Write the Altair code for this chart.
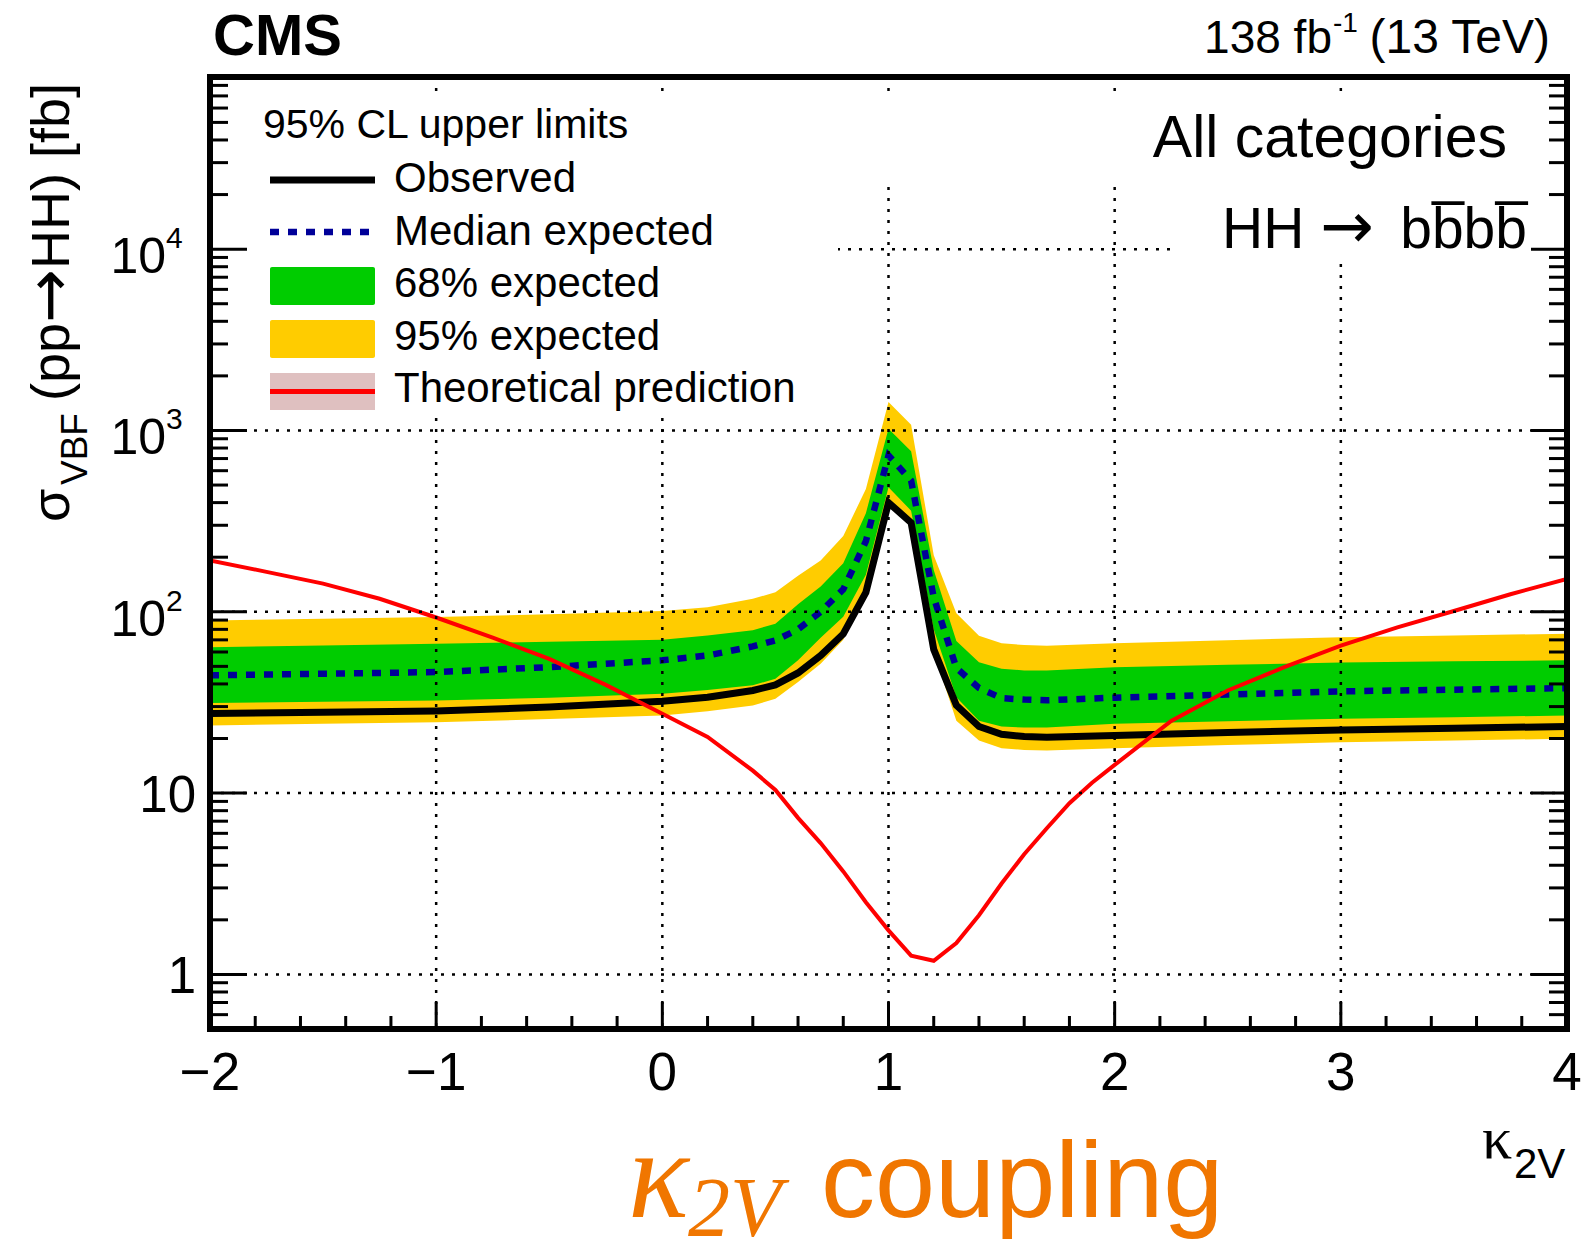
import altair as alt
import pandas as pd

# ---------------- data ----------------
# kappa_2V scan points of the upper limits (fb)
kappa = [-2.0, -1.5, -1.0, -0.5, 0.0, 0.2, 0.4, 0.5, 0.6, 0.7, 0.8, 0.9, 1.0,
         1.1, 1.2, 1.3, 1.4, 1.5, 1.6, 1.7, 2.0, 2.5, 3.0, 3.5, 4.0]
observed = [27.5, 27.9, 28.4, 29.8, 32.1, 33.8, 36.8, 39.5, 46.0, 57.4, 75.5, 128, 400,
            310, 62, 30.5, 23.3, 21.1, 20.5, 20.3, 20.8, 21.6, 22.3, 22.8, 23.3]
expected = [44.6, 45.5, 46.5, 49.5, 54.0, 57.4, 64.4, 69.5, 80.0, 100, 133, 245, 728,
            529, 120, 49.0, 38.0, 33.4, 32.8, 32.5, 33.6, 35.0, 36.4, 37.2, 37.9]
band68_lo = [31.4, 31.9, 32.4, 33.6, 35.3, 37.0, 39.3, 42.7, 54.0, 72.0, 94.0, 160, 486,
             361, 80.0, 33.8, 25.1, 23.3, 23.0, 23.0, 24.1, 24.9, 25.7, 26.2, 26.8]
band68_hi = [63.8, 65.2, 66.7, 68.3, 70.2, 74.0, 79.0, 86.0, 110, 138, 185, 350, 1021,
             769, 170, 69.0, 52.6, 48.5, 47.5, 47.4, 49.5, 51.0, 52.5, 53.3, 54.0]
band95_lo = [23.6, 24.1, 24.6, 25.6, 26.8, 28.3, 30.4, 33.1, 41.0, 51.7, 70.0, 128, 425,
             290, 60.0, 25.1, 19.5, 17.7, 17.3, 17.2, 17.7, 18.4, 19.1, 19.5, 19.95]
band95_hi = [89.6, 91.5, 93.5, 97.0, 101, 106, 118, 128, 158, 192, 262, 475, 1435,
             1075, 205, 98.0, 73.8, 67.0, 65.5, 65.0, 67.0, 69.7, 72.4, 74.0, 75.7]

# theoretical VBF HH cross section (fb)
kappa_th = [-2.0, -1.75, -1.5, -1.25, -1.0, -0.75, -0.5, -0.25, 0.0, 0.2, 0.4, 0.5, 0.6,
            0.7, 0.8, 0.9, 1.0, 1.1, 1.2, 1.3, 1.4, 1.5, 1.6, 1.7, 1.8, 1.9, 2.0, 2.25,
            2.5, 2.75, 3.0, 3.25, 3.5, 3.75, 4.0]
theory = [192, 166, 143, 118, 93.0, 72.0, 55.0, 39.5, 27.4, 20.4, 13.3, 10.4, 7.3,
          5.3, 3.7, 2.5, 1.75, 1.27, 1.19, 1.49, 2.12, 3.17, 4.6, 6.4, 8.8, 11.4, 14.3,
          25.0, 36.8, 49.5, 65.0, 82.0, 101, 125, 152]

# axes
x_major = [-2, -1, 0, 1, 2, 3, 4]
x_labels = ["\u22122", "\u22121", "0", "1", "2", "3", "4"]
x_minor = [-1.8, -1.6, -1.4, -1.2, -0.8, -0.6, -0.4, -0.2, 0.2, 0.4, 0.6, 0.8,
           1.2, 1.4, 1.6, 1.8, 2.2, 2.4, 2.6, 2.8, 3.2, 3.4, 3.6, 3.8]
x_grid = [-1, 0, 1, 2, 3]
y_major = [1, 10, 100, 1000, 10000]
y_plain_labels = ["1", "10"]
y_exp_labels = ["2", "3", "4"]
y_minor = [m * 10 ** e for e in range(-1, 5) for m in range(2, 10)
           if 0.5 < m * 10 ** e < 89000 and m * 10 ** e not in (0.2, 0.3, 0.4, 0.5)]

# ---------------- layout ----------------
W, H = 1357, 952
FONT = "Liberation Sans"
SERIF = "Liberation Serif"
ARROW_FONT = "DejaVu Sans"
ORANGE = "#F07600"
GREEN = "#00CC00"
YELLOW = "#FFCC00"
BLUE = "#000099"
RED = "#FF0000"
PINK = "#DFC0C0"

xscale = alt.Scale(domain=[-2, 4], nice=False, zero=False)
yscale = alt.Scale(type="log", domain=[0.5, 89000], nice=False)

one = pd.DataFrame({"_": [0]})


def X(field="k"):
    return alt.X(f"{field}:Q", scale=xscale, axis=None)


def Y(field="v"):
    return alt.Y(f"{field}:Q", scale=yscale, axis=None)


def text(t, x, y, size, align="left", color="black", font=FONT, weight="normal",
         style="normal", angle=0):
    return alt.Chart(one).mark_text(
        text=t, align=align, baseline="alphabetic", fontSize=size, font=font,
        fontWeight=weight, fontStyle=style, color=color, angle=angle,
    ).encode(x=alt.value(x), y=alt.value(y))


def box(x0, x1, y0, y1, fill, radius=0):
    return alt.Chart(one).mark_rect(
        fill=fill, strokeWidth=0, cornerRadius=radius
    ).encode(x=alt.value(x0), x2=alt.value(x1), y=alt.value(y0), y2=alt.value(y1))


def hline(x0, x1, y, color, width, dash=None):
    kw = dict(color=color, strokeWidth=width, strokeCap="butt")
    if dash:
        kw["strokeDash"] = dash
    return alt.Chart(one).mark_rule(**kw).encode(
        x=alt.value(x0), x2=alt.value(x1), y=alt.value(y))


limits = pd.DataFrame({
    "k": kappa, "obs": observed, "exp": expected,
    "g_lo": band68_lo, "g_hi": band68_hi, "y_lo": band95_lo, "y_hi": band95_hi,
})
th = pd.DataFrame({"k": kappa_th, "v": theory})

# ---------------- data layers ----------------
band95 = alt.Chart(limits).mark_area(color=YELLOW, clip=True).encode(
    x=X(), y=Y("y_lo"), y2=alt.Y2("y_hi:Q"))
band68 = alt.Chart(limits).mark_area(color=GREEN, clip=True).encode(
    x=X(), y=Y("g_lo"), y2=alt.Y2("g_hi:Q"))
exp_line = alt.Chart(limits).mark_line(
    color=BLUE, strokeWidth=6.5, strokeDash=[9, 9], strokeCap="butt", clip=True
).encode(x=X(), y=Y("exp"))
obs_line = alt.Chart(limits).mark_line(
    color="black", strokeWidth=7, clip=True).encode(x=X(), y=Y("obs"))
th_line = alt.Chart(th).mark_line(
    color=RED, strokeWidth=4, clip=True).encode(x=X(), y=Y("v"))

# ---------------- grid ----------------
vgrid = alt.Chart(pd.DataFrame({"k": x_grid})).mark_rule(
    color="black", strokeWidth=2.5, strokeDash=[3, 8]
).encode(x=X(), y=alt.value(0), y2=alt.value(H))
hgrid = alt.Chart(pd.DataFrame({"v": y_major})).mark_rule(
    color="black", strokeWidth=2.5, strokeDash=[3, 8]
).encode(y=Y(), x=alt.value(0), x2=alt.value(W))

# blank areas behind legend and labels
blanks = [
    box(0, 628, 20, 341, "white"),
    box(630, W, 20, 108, "white"),
    box(962, W, 108, 186, "white"),
]

# ---------------- ticks ----------------
xmaj = pd.DataFrame({"k": x_major, "lab": x_labels})
xmin = pd.DataFrame({"k": x_minor})
ymaj = pd.DataFrame({"v": y_major})
ymin = pd.DataFrame({"v": y_minor})

tick_kw = dict(color="black", strokeWidth=3)
ticks = [
    alt.Chart(xmaj).mark_rule(**tick_kw).encode(x=X(), y=alt.value(H), y2=alt.value(H - 27)),
    alt.Chart(xmin).mark_rule(**tick_kw).encode(x=X(), y=alt.value(H), y2=alt.value(H - 13)),
    alt.Chart(ymaj).mark_rule(**tick_kw).encode(y=Y(), x=alt.value(0), x2=alt.value(37)),
    alt.Chart(ymin).mark_rule(**tick_kw).encode(y=Y(), x=alt.value(0), x2=alt.value(18)),
    alt.Chart(ymaj).mark_rule(**tick_kw).encode(y=Y(), x=alt.value(W - 36), x2=alt.value(W)),
    alt.Chart(ymin).mark_rule(**tick_kw).encode(y=Y(), x=alt.value(W - 18), x2=alt.value(W)),
]

frame = alt.Chart(one).mark_rect(fill="transparent", stroke="black", strokeWidth=6).encode(
    x=alt.value(0), x2=alt.value(W), y=alt.value(0), y2=alt.value(H))

# ---------------- tick labels ----------------
xlab = alt.Chart(xmaj).mark_text(
    align="center", baseline="alphabetic", fontSize=53, font=FONT, color="black"
).encode(x=X(), y=alt.value(H + 61), text="lab:N")

ylab_plain = alt.Chart(pd.DataFrame({"v": y_major[:2], "lab": y_plain_labels})).mark_text(
    align="right", baseline="alphabetic", fontSize=51, font=FONT, dy=19, color="black"
).encode(x=alt.value(-14), y=Y(), text="lab:N")
ylab_base = alt.Chart(pd.DataFrame({"v": y_major[2:]})).mark_text(
    text="10", align="right", baseline="alphabetic", fontSize=50, font=FONT, dy=24,
    color="black"
).encode(x=alt.value(-44), y=Y())
ylab_exp = alt.Chart(pd.DataFrame({"v": y_major[2:], "lab": y_exp_labels})).mark_text(
    align="left", baseline="alphabetic", fontSize=30, font=FONT, dy=-1, color="black"
).encode(x=alt.value(-44), y=Y(), text="lab:N")

# ---------------- titles and annotations ----------------
annotations = [
    # y-axis title, reading upwards
    text("\u03c3", -141, 445, 54, angle=270),
    text("VBF", -123, 408, 37, angle=270),
    text("(pp", -141, 324, 54, angle=270),
    text("\u2192", -139, 246, 64, font=ARROW_FONT, angle=270),
    text("HH) [fb]", -141, 192, 54, angle=270),
    # x-axis title
    text("\u03ba", 1272, 1081, 60, font=SERIF),
    text("2V", 1304, 1101, 42),
    # header
    text("CMS", 3, -22, 58, weight="bold"),
    text("138 fb", 1122, -24, 46, align="right"),
    text("-1", 1123, -45, 28),
    text("(13 TeV)", 1340, -24, 48, align="right"),
    # in-frame labels
    text("All categories", 1297, 80, 59, align="right"),
    text("HH", 1012, 171, 57),
    text("\u2192", 1110, 171, 64, font=ARROW_FONT),
    text("bb\u0305bb\u0305", 1317, 171, 57, align="right"),
    # big coupling caption
    text("\u03ba", 418, 1140, 127, color=ORANGE, font=SERIF, style="italic"),
    text("2V", 478, 1159, 84, color=ORANGE, font=SERIF, style="italic"),
    text("coupling", 611, 1140, 108, color=ORANGE),
]

# ---------------- legend ----------------
legend = [
    text("95% CL upper limits", 53, 61, 41),
    hline(60, 165, 103, "black", 7),
    text("Observed", 184, 115, 42),
    hline(60, 165, 155, BLUE, 6.5, dash=[9, 9]),
    text("Median expected", 184, 168, 42),
    box(60, 165, 190, 228, GREEN, radius=2),
    text("68% expected", 184, 220, 42),
    box(60, 165, 243, 281, YELLOW, radius=2),
    text("95% expected", 184, 273, 42),
    box(60, 165, 296, 333, PINK),
    hline(60, 165, 314.5, RED, 5),
    text("Theoretical prediction", 184, 325, 42),
]

chart = alt.layer(
    band95, band68, exp_line, obs_line, th_line,
    vgrid, hgrid, *blanks, *ticks, frame,
    xlab, ylab_plain, ylab_base, ylab_exp,
    *annotations, *legend,
).properties(
    width=W, height=H,
    padding={"left": 210, "top": 77, "right": 21, "bottom": 225},
    autosize=alt.AutoSizeParams(type="none"),
).configure(background="white").configure_view(strokeWidth=0)

chart.save("out.html", embed_options={"renderer": "svg", "actions": False})
